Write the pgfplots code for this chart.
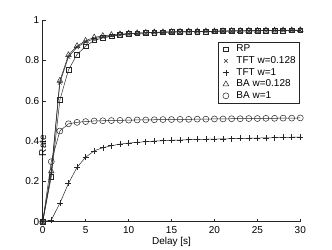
\documentclass[border=0pt]{standalone}
\usepackage{fontspec}
\setmainfont{Liberation Sans}
\usepackage{pgfplots}
\pgfplotsset{compat=1.18}
\begin{document}
\fontsize{10bp}{12bp}\selectfont
\begin{tikzpicture}[font=\fontsize{10bp}{12bp}\selectfont]
\useasboundingbox (0,0) rectangle (332bp,250bp);
\begin{axis}[
  at={(42.7bp,28.3bp)}, anchor=south west,
  scale only axis, width=257.6bp, height=201.5bp,
  xmin=0, xmax=30, ymin=0, ymax=1,
  axis x line*=bottom, axis y line*=left,
  axis line style={line width=0.5bp, black!85},
  tick align=inside, major tick length=3bp,
  tick style={line width=0.5bp, black!85},
  xtick={0,5,10,15,20,25,30},
  ytick={0,0.2,0.4,0.6,0.8,1},
  yticklabels={0,0.2,0.4,0.6,0.8,1},
  /pgf/number format/assume math mode=true,
  tick label style={font=\fontsize{10bp}{12bp}\selectfont},
  xticklabel style={yshift=-1.5bp},
  xlabel={Delay [s]}, ylabel={Rate},
  xlabel style={at={(rel axis cs:0.5,0)}, anchor=center, yshift=-20bp, font=\fontsize{10bp}{12bp}\selectfont},
  ylabel style={at={(rel axis cs:0,0.5)}, anchor=center, xshift=-24.5bp, yshift=0bp, font=\fontsize{10bp}{12bp}\selectfont},
  every axis plot/.append style={black!85, line width=0.5bp, mark options={solid, line width=0.5bp}},
  legend image code/.code={\path[draw=none,fill=none] (0bp,0bp) -- (15bp,0bp); \draw[#1, only marks] plot coordinates {(6bp,0bp)};},
  legend style={at={(rel axis cs:0.997,0.893)}, anchor=north east, draw=black!85, line width=0.5bp, fill=white, font=\fontsize{10bp}{12bp}\selectfont, inner xsep=2bp, inner ysep=1.5bp, row sep=0bp, nodes={inner sep=1.6bp}, cells={anchor=west}},
]
% RP
\addplot[mark=square, mark size=2.4bp] coordinates {
(0,0)(1,0.223)(2,0.604)(3,0.753)(4,0.83)(5,0.871)(6,0.9)(7,0.912)(8,0.92)(9,0.927)(10,0.932)
(11,0.935)(12,0.937)(13,0.939)(14,0.940)(15,0.941)(16,0.942)(17,0.943)(18,0.944)(19,0.944)(20,0.945)
(21,0.946)(22,0.946)(23,0.947)(24,0.947)(25,0.948)(26,0.948)(27,0.949)(28,0.949)(29,0.950)(30,0.950)};
\addlegendentry{RP}
% TFT w=0.128
\addplot[mark=x, mark size=2.5bp] coordinates {
(0,0)(1,0.24)(2,0.69)(3,0.818)(4,0.866)(5,0.892)(6,0.908)(7,0.917)(8,0.923)(9,0.928)(10,0.932)
(11,0.935)(12,0.937)(13,0.939)(14,0.940)(15,0.941)(16,0.942)(17,0.943)(18,0.944)(19,0.944)(20,0.945)
(21,0.946)(22,0.946)(23,0.947)(24,0.947)(25,0.948)(26,0.948)(27,0.949)(28,0.949)(29,0.950)(30,0.950)};
\addlegendentry{TFT w=0.128}
% TFT w=1
\addplot[mark=+, mark size=3bp] coordinates {
(0,0)(1,0.008)(2,0.092)(3,0.19)(4,0.27)(5,0.32)(6,0.352)(7,0.367)(8,0.377)(9,0.385)(10,0.39)
(11,0.394)(12,0.397)(13,0.4)(14,0.402)(15,0.404)(16,0.405)(17,0.407)(18,0.408)(19,0.409)(20,0.41)
(21,0.411)(22,0.412)(23,0.413)(24,0.414)(25,0.415)(26,0.416)(27,0.417)(28,0.418)(29,0.419)(30,0.42)};
\addlegendentry{TFT w=1}
% BA w=0.128
\addplot[mark=triangle, mark size=3.3bp] coordinates {
(0,0)(1,0.25)(2,0.7)(3,0.827)(4,0.872)(5,0.898)(6,0.915)(7,0.922)(8,0.927)(9,0.931)(10,0.934)
(11,0.936)(12,0.938)(13,0.940)(14,0.941)(15,0.942)(16,0.943)(17,0.944)(18,0.944)(19,0.945)(20,0.945)
(21,0.946)(22,0.947)(23,0.947)(24,0.948)(25,0.948)(26,0.949)(27,0.949)(28,0.950)(29,0.950)(30,0.951)};
\addlegendentry{BA w=0.128}
% BA w=1
\addplot[mark=o, mark size=3bp] coordinates {
(0,0)(1,0.298)(2,0.45)(3,0.486)(4,0.493)(5,0.497)(6,0.5)(7,0.501)(8,0.502)(9,0.503)(10,0.504)
(11,0.505)(12,0.505)(13,0.506)(14,0.507)(15,0.507)(16,0.508)(17,0.508)(18,0.509)(19,0.509)(20,0.51)
(21,0.51)(22,0.511)(23,0.511)(24,0.512)(25,0.512)(26,0.513)(27,0.513)(28,0.514)(29,0.514)(30,0.515)};
\addlegendentry{BA w=1}
\end{axis}
\end{tikzpicture}
\end{document}
